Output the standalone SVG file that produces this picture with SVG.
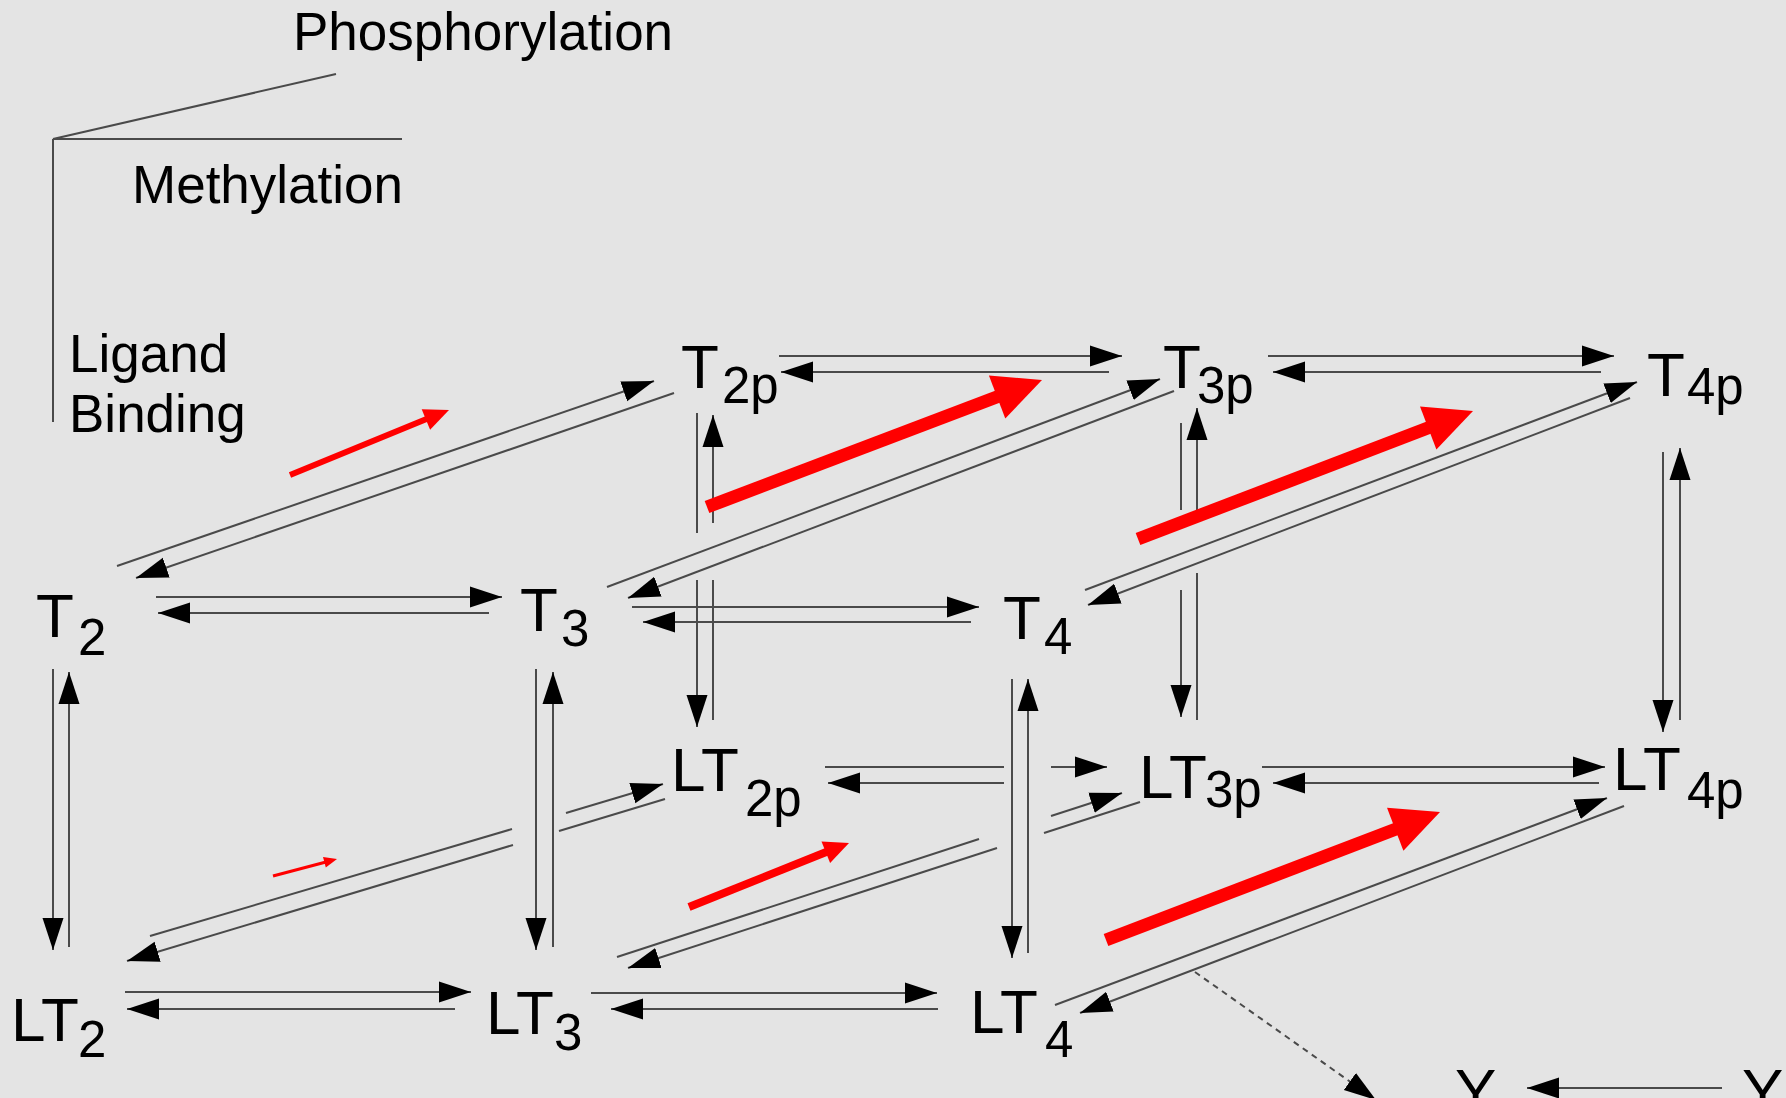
<svg xmlns="http://www.w3.org/2000/svg" width="1786" height="1098" viewBox="0 0 1786 1098">
<style>
.bg{fill:#e4e4e4}
.lbl{font-family:"Liberation Sans",Arial,sans-serif;fill:#000}
.main{font-size:62px}
.sub{font-size:51px}
.leg{font-family:"Liberation Sans",Arial,sans-serif;font-size:53px;fill:#000}
.ln{stroke:#4a4a4a;stroke-width:2;fill:none}
.la{stroke:#4a4a4a;stroke-width:2;fill:none;marker-end:url(#ah)}
.dash{stroke:#4a4a4a;stroke-width:2;fill:none;stroke-dasharray:6 5;marker-end:url(#ah)}
.red{stroke:#ff0000;fill:none}
.redh{fill:#ff0000}
</style>
<defs>
<marker id="ah" markerUnits="userSpaceOnUse" markerWidth="34" markerHeight="24" viewBox="0 0 34 24" refX="32" refY="12" orient="auto">
<path d="M0,1.5 L32,12 L0,22.5 z" fill="#000"/>
</marker>
</defs>
<rect class="bg" x="0" y="0" width="1786" height="1098"/>

<g id="legend">
<line class="ln" x1="53" y1="139" x2="53" y2="422"/>
<line class="ln" x1="53" y1="139" x2="402" y2="139"/>
<line class="ln" x1="53" y1="139" x2="336" y2="74"/>
<text class="leg" x="293" y="50">Phosphorylation</text>
<text class="leg" x="132" y="203">Methylation</text>
<text class="leg" x="69" y="372">Ligand</text>
<text class="leg" x="69" y="432">Binding</text>
</g>

<g id="connectors">
<!-- horizontal pairs -->
<line class="la" x1="156" y1="597" x2="502" y2="597"/>
<line class="la" x1="489" y1="613" x2="158" y2="613"/>
<line class="la" x1="632" y1="607" x2="979" y2="607"/>
<line class="la" x1="971" y1="622" x2="643" y2="622"/>
<line class="la" x1="125" y1="992" x2="471" y2="992"/>
<line class="la" x1="455" y1="1009" x2="127" y2="1009"/>
<line class="la" x1="591" y1="993" x2="937" y2="993"/>
<line class="la" x1="938" y1="1009" x2="611" y2="1009"/>
<line class="la" x1="779" y1="356" x2="1122" y2="356"/>
<line class="la" x1="1109" y1="372" x2="781" y2="372"/>
<line class="la" x1="1268" y1="356" x2="1614" y2="356"/>
<line class="la" x1="1601" y1="372" x2="1273" y2="372"/>
<line class="ln" x1="825" y1="767" x2="1004" y2="767"/>
<line class="la" x1="1051" y1="767" x2="1107" y2="767"/>
<line class="la" x1="1004" y1="783" x2="828" y2="783"/>
<line class="la" x1="1262" y1="767" x2="1605" y2="767"/>
<line class="la" x1="1599" y1="783" x2="1273" y2="783"/>
<line class="la" x1="1722" y1="1088" x2="1527" y2="1088"/>
<!-- vertical pairs -->
<line class="la" x1="53" y1="669" x2="53" y2="950"/>
<line class="la" x1="69" y1="947" x2="69" y2="672"/>
<line class="la" x1="536" y1="669" x2="536" y2="950"/>
<line class="la" x1="553" y1="947" x2="553" y2="672"/>
<line class="la" x1="1012" y1="679" x2="1012" y2="958"/>
<line class="la" x1="1028" y1="953" x2="1028" y2="679"/>
<line class="ln" x1="697" y1="413" x2="697" y2="533"/>
<line class="la" x1="697" y1="580" x2="697" y2="727"/>
<line class="la" x1="713" y1="523" x2="713" y2="415"/>
<line class="ln" x1="713" y1="720" x2="713" y2="580"/>
<line class="ln" x1="1181" y1="423" x2="1181" y2="510"/>
<line class="la" x1="1181" y1="590" x2="1181" y2="717"/>
<line class="la" x1="1197" y1="510" x2="1197" y2="408"/>
<line class="ln" x1="1197" y1="720" x2="1197" y2="573"/>
<line class="la" x1="1663" y1="452" x2="1663" y2="732"/>
<line class="la" x1="1680" y1="720" x2="1680" y2="448"/>
<!-- diagonal pairs -->
<line class="la" x1="117" y1="566" x2="654" y2="381"/>
<line class="la" x1="674" y1="393" x2="136" y2="578"/>
<line class="la" x1="607" y1="587" x2="1160" y2="379"/>
<line class="la" x1="1174" y1="391" x2="628" y2="598"/>
<line class="la" x1="1085" y1="590" x2="1637" y2="382"/>
<line class="la" x1="1630" y1="398" x2="1088" y2="605"/>
<line class="ln" x1="150" y1="936" x2="512" y2="829"/>
<line class="la" x1="566" y1="813" x2="663" y2="784"/>
<line class="ln" x1="665" y1="799" x2="559" y2="831"/>
<line class="la" x1="513" y1="845" x2="127" y2="961"/>
<line class="ln" x1="617" y1="957" x2="979" y2="839"/>
<line class="la" x1="1051" y1="816" x2="1122" y2="793"/>
<line class="ln" x1="1140" y1="802" x2="1044" y2="833"/>
<line class="la" x1="997" y1="848" x2="628" y2="968"/>
<line class="la" x1="1055" y1="1005" x2="1607" y2="798"/>
<line class="la" x1="1624" y1="806" x2="1080" y2="1013"/>
<line class="dash" x1="1195" y1="972" x2="1376" y2="1100"/>
</g>

<g id="red-arrows">
<line class="red" stroke-width="6" x1="290" y1="475" x2="429" y2="418"/>
<polygon class="redh" points="449,410 430.1,429.7 421.7,409.3"/>
<line class="red" stroke-width="13" x1="707" y1="507" x2="1002" y2="395"/>
<polygon class="redh" points="1042,380 1005.3,418.5 988.9,375.5"/>
<line class="red" stroke-width="13" x1="1138" y1="539" x2="1433" y2="426"/>
<polygon class="redh" points="1473,411 1436.4,449.6 1420,406.6"/>
<line class="red" stroke-width="3" x1="273" y1="876" x2="326" y2="862"/>
<polygon class="redh" points="337,859 325.8,867.6 323,857"/>
<line class="red" stroke-width="8" x1="689" y1="907" x2="830" y2="850.5"/>
<polygon class="redh" points="849,843 830.1,863 821.5,841.6"/>
<line class="red" stroke-width="13" x1="1106" y1="940" x2="1400" y2="827.5"/>
<polygon class="redh" points="1440,812 1403.4,850.7 1387,807.7"/>
</g>

<g id="T2"><text class="lbl main" x="36" y="637">T</text><text class="lbl sub" x="78" y="655">2</text></g>
<g id="T3"><text class="lbl main" x="520" y="631">T</text><text class="lbl sub" x="561" y="646">3</text></g>
<g id="T4"><text class="lbl main" x="1003" y="639">T</text><text class="lbl sub" x="1044" y="654">4</text></g>
<g id="T2p"><text class="lbl main" x="681" y="388">T</text><text class="lbl sub" x="722" y="403">2p</text></g>
<g id="T3p"><text class="lbl main" x="1163" y="388">T</text><text class="lbl sub" x="1197" y="403">3p</text></g>
<g id="T4p"><text class="lbl main" x="1647" y="396">T</text><text class="lbl sub" x="1687" y="404">4p</text></g>
<g id="LT2"><text class="lbl main" x="11" y="1041">LT</text><text class="lbl sub" x="78" y="1057">2</text></g>
<g id="LT3"><text class="lbl main" x="486" y="1034">LT</text><text class="lbl sub" x="554" y="1050">3</text></g>
<g id="LT4"><text class="lbl main" x="970" y="1033">LT</text><text class="lbl sub" x="1045" y="1057">4</text></g>
<g id="LT2p"><text class="lbl main" x="671" y="791">LT</text><text class="lbl sub" x="745" y="816">2p</text></g>
<g id="LT3p"><text class="lbl main" x="1139" y="798">LT</text><text class="lbl sub" x="1205" y="807">3p</text></g>
<g id="LT4p"><text class="lbl main" x="1613" y="790">LT</text><text class="lbl sub" x="1687" y="808">4p</text></g>
<g id="Y1"><text class="lbl main" x="1455" y="1112">Y</text></g>
<g id="Y2"><text class="lbl main" x="1742" y="1112">Y</text></g>
</svg>
